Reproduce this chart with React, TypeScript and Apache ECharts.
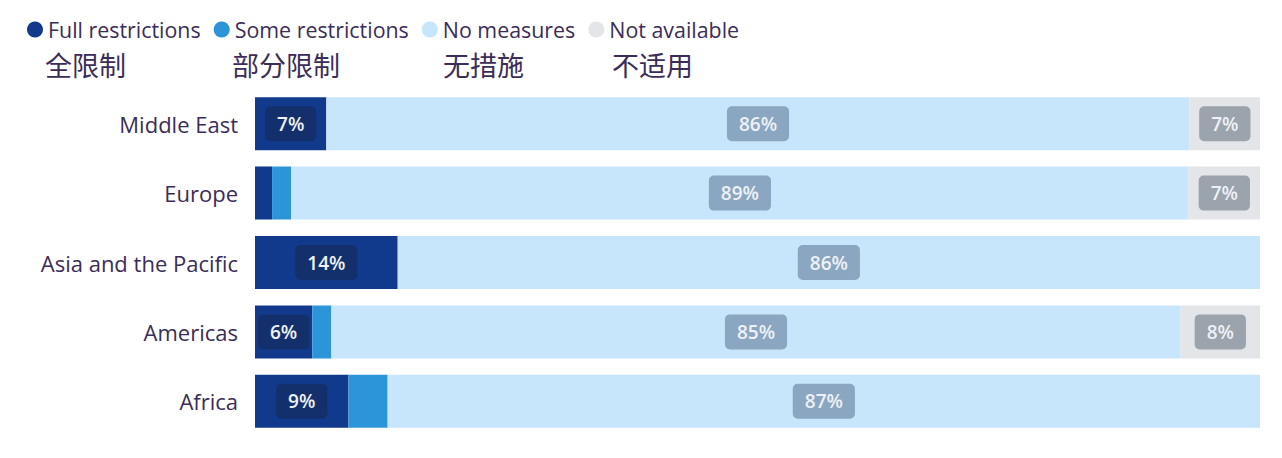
import { useEffect, useRef } from 'react';
import * as echarts from 'echarts';

// regions, top to bottom
const regions = ['Middle East', 'Europe', 'Asia and the Pacific', 'Americas', 'Africa'];

// shares in %
const fullRestrictions = [7.1, 1.7, 14.2, 5.7, 9.3];
const someRestrictions = [0, 1.9, 0, 1.9, 3.9];
const noMeasures = [85.9, 89.3, 85.8, 84.5, 86.8];
const notAvailable = [7.0, 7.1, 0, 7.9, 0];

const seriesNames = ['Full restrictions', 'Some restrictions', 'No measures', 'Not available'];
const seriesNamesZh = ['全限制', '部分限制', '无措施', '不适用'];
const seriesColors = ['#113a8d', '#2c95da', '#c7e5fb', '#e3e5e8'];

const FONT = '"Open Sans", "Noto Sans", sans-serif';
const TEXT_COLOR = '#3b2d58';

function labelled(values: number[], min: number) {
  return values.map((v) => ({ value: v, label: { show: v >= min } }));
}

export default function App() {
  const chartRef = useRef<HTMLDivElement>(null);

  useEffect(() => {
    if (!chartRef.current) return;
    const chart = echarts.init(chartRef.current, null, { renderer: 'svg' });

    const boxLabel = (bg: string) => ({
      show: true,
      position: 'inside' as const,
      formatter: (p: any) => `${Math.round(p.value)}%`,
      fontFamily: FONT,
      fontSize: 19,
      fontWeight: 600,
      color: '#eef2f8',
      backgroundColor: bg,
      borderRadius: 5,
      padding: [8, 12],
    });

    const option: echarts.EChartsOption = {
      animation: false,
      backgroundColor: '#ffffff',
      color: seriesColors,
      legend: {
        left: 22,
        top: 14,
        icon: 'circle',
        itemWidth: 16,
        itemHeight: 16,
        itemGap: 13,
        textStyle: { fontFamily: FONT, fontSize: 21.4, color: TEXT_COLOR },
        data: seriesNames,
      },
      graphic: seriesNamesZh.map((t, i) => ({
        type: 'text',
        left: [45, 232, 443, 612][i],
        top: 51,
        style: {
          text: t,
          fontFamily: '"Noto Sans CJK SC", sans-serif',
          fontSize: 27,
          fill: TEXT_COLOR,
        },
      })),
      grid: { left: 255, right: 22, top: 89, bottom: 22 },
      xAxis: {
        type: 'value',
        min: 0,
        max: 100,
        show: false,
      },
      yAxis: {
        type: 'category',
        inverse: true,
        data: regions,
        axisLine: { show: false },
        axisTick: { show: false },
        axisLabel: {
          fontFamily: FONT,
          fontSize: 22,
          color: TEXT_COLOR,
          margin: 17,
        },
      },
      series: [
        {
          name: seriesNames[0],
          type: 'bar',
          stack: 'total',
          barWidth: 53,
          label: boxLabel('#14306c'),
          data: labelled(fullRestrictions, 5),
        },
        {
          name: seriesNames[1],
          type: 'bar',
          stack: 'total',
          barWidth: 53,
          label: { show: false },
          data: someRestrictions,
        },
        {
          name: seriesNames[2],
          type: 'bar',
          stack: 'total',
          barWidth: 53,
          label: boxLabel('#8ba6c0'),
          data: labelled(noMeasures, 5),
        },
        {
          name: seriesNames[3],
          type: 'bar',
          stack: 'total',
          barWidth: 53,
          label: boxLabel('#9ba3ac'),
          data: labelled(notAvailable, 5),
        },
      ],
    };

    chart.setOption(option);

    return () => {
      chart.dispose();
    };
  }, []);

  return (
    <div
      ref={chartRef}
      style={{ position: 'fixed', left: 0, top: 0, width: 1282, height: 458 }}
    />
  );
}
